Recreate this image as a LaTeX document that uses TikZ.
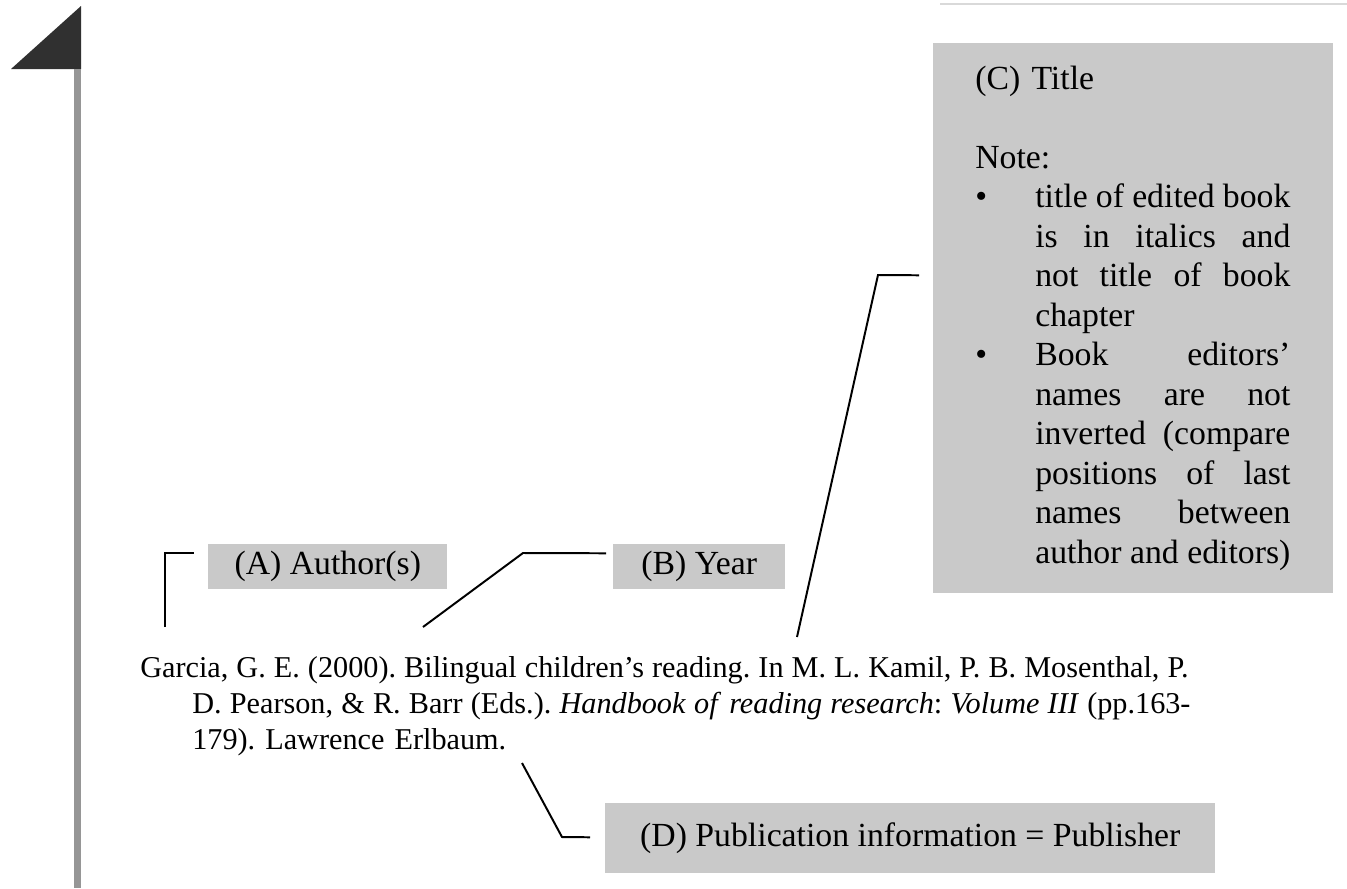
\documentclass[tikz,border=0pt]{standalone}
\usepackage{fontspec}
\setmainfont{Liberation Serif}
\usetikzlibrary{calc}

\definecolor{grigio}{RGB}{201,201,201}
\definecolor{barra}{RGB}{150,150,150}
\definecolor{punta}{RGB}{48,48,48}

\newcommand{\unita}{0.025cm}
\newcommand{\riquadro}[6]{ % #1 nome, (#2,#3) angolo in alto a sinistra, #4 larghezza, #5 altezza
  \node[etichetta, anchor=north west, minimum width=#4*\unita, minimum height=#5*\unita] (#1) at (#2,#3) {#6};
}
\newcommand{\voce}[1]{\leavevmode\hbox to 1.5cm{\textbullet\hfil}\hbox to 6.375cm{#1}} % riga con pallino
\newcommand{\riga}[1]{\leavevmode\hspace*{1.5cm}\hbox to 6.375cm{#1}} % riga giustificata

\tikzset{
  etichetta/.style={fill=grigio, inner sep=0pt, font=\fontsize{24}{28}\selectfont},
  nota/.style={anchor=base west, inner sep=0pt, align=left, text width=7.925cm, font=\fontsize{24}{28.1}\selectfont},
  citazione/.style={anchor=base west, inner sep=0pt, align=left, text width=26.5cm, font=\fontsize{21.5}{25.6}\selectfont\frenchspacing},
  filo/.style={draw=black, line width=1.4pt},
}

\begin{document}
\begin{tikzpicture}[x=0.025cm, y=-0.025cm]
    \useasboundingbox[fill=white] (0,0) rectangle (1347,888);

    % margine della pagina
    \fill[punta] (11,69) -- (81,69) -- (81,6) -- cycle;
    \fill[barra] (74,69) rectangle (81,888);
    \draw[gray!30, line width=1.5pt] (940,4) -- (1347,4);

    \riquadro{autore}{208}{544}{239}{45}{(A) Author(s)}
    \riquadro{anno}{613}{544}{172}{45}{(B) Year}
    \riquadro{titolo}{933}{43}{400}{550}{}
    \riquadro{editore}{605}{803}{610}{70}{(D) Publication information = Publisher}

    \node[nota] (testoC) at (975,89) {%
        (C) Title\\[28.1pt]
        Note:\\
        \voce{title\hfill of\hfill edited\hfill book}\\
        \riga{is\hfill in\hfill italics\hfill and}\\
        \riga{not\hfill title\hfill of\hfill book}\\
        \hspace*{1.5cm}chapter\\
        \voce{Book\hfill editors’}\\
        \riga{names\hfill are\hfill not}\\
        \riga{inverted\hfill (compare}\\
        \riga{positions\hfill of\hfill last}\\
        \riga{names\hfill between}\\
        \riga{author\hfill and\hfill editors)}};

    \node[citazione] (garcia) at (140,677) {%
        \leavevmode\hbox to 26.2cm{Garcia,\hfill G.\hfill E.\hfill (2000).\hfill Bilingual\hfill children’s\hfill reading.\hfill In\hfill M.\hfill L.\hfill Kamil,\hfill P.\hfill B.\hfill Mosenthal,\hfill P.}\\
        \hspace*{1.3cm}\hbox to 24.95cm{D.\hfill Pearson,\hfill \&\hfill R.\hfill Barr\hfill (Eds.).\hfill \textit{Handbook}\hfill \textit{of}\hfill \textit{reading}\hfill \textit{research}:\hfill \textit{Volume}\hfill \textit{III}\hfill (pp.163-}\\
        \hspace*{1.3cm}179). Lawrence Erlbaum.};

    % richiami
    \coordinate (piedeA) at (165,627);
    \coordinate (piedeB) at (423,627);
    \coordinate (gomitoB) at (523,553);
    \coordinate (piedeC) at (797,637);
    \coordinate (gomitoC) at (878,275);
    \coordinate (piedeD) at (522,763);
    \coordinate (gomitoD) at (562,837);

    \draw[filo] (piedeA) |- ($(autore.west)+(-14,-13.5)$);
    \draw[filo] (piedeB) -- (gomitoB) -- ($(anno.west)+(-7,-13.5)$);
    \draw[filo] (piedeC) -- (gomitoC) -- ($(titolo.west)+(-14,-43)$);
    \draw[filo] (piedeD) -- (gomitoD) -- ($(editore.west)+(-15,-1)$);
\end{tikzpicture}
\end{document}
